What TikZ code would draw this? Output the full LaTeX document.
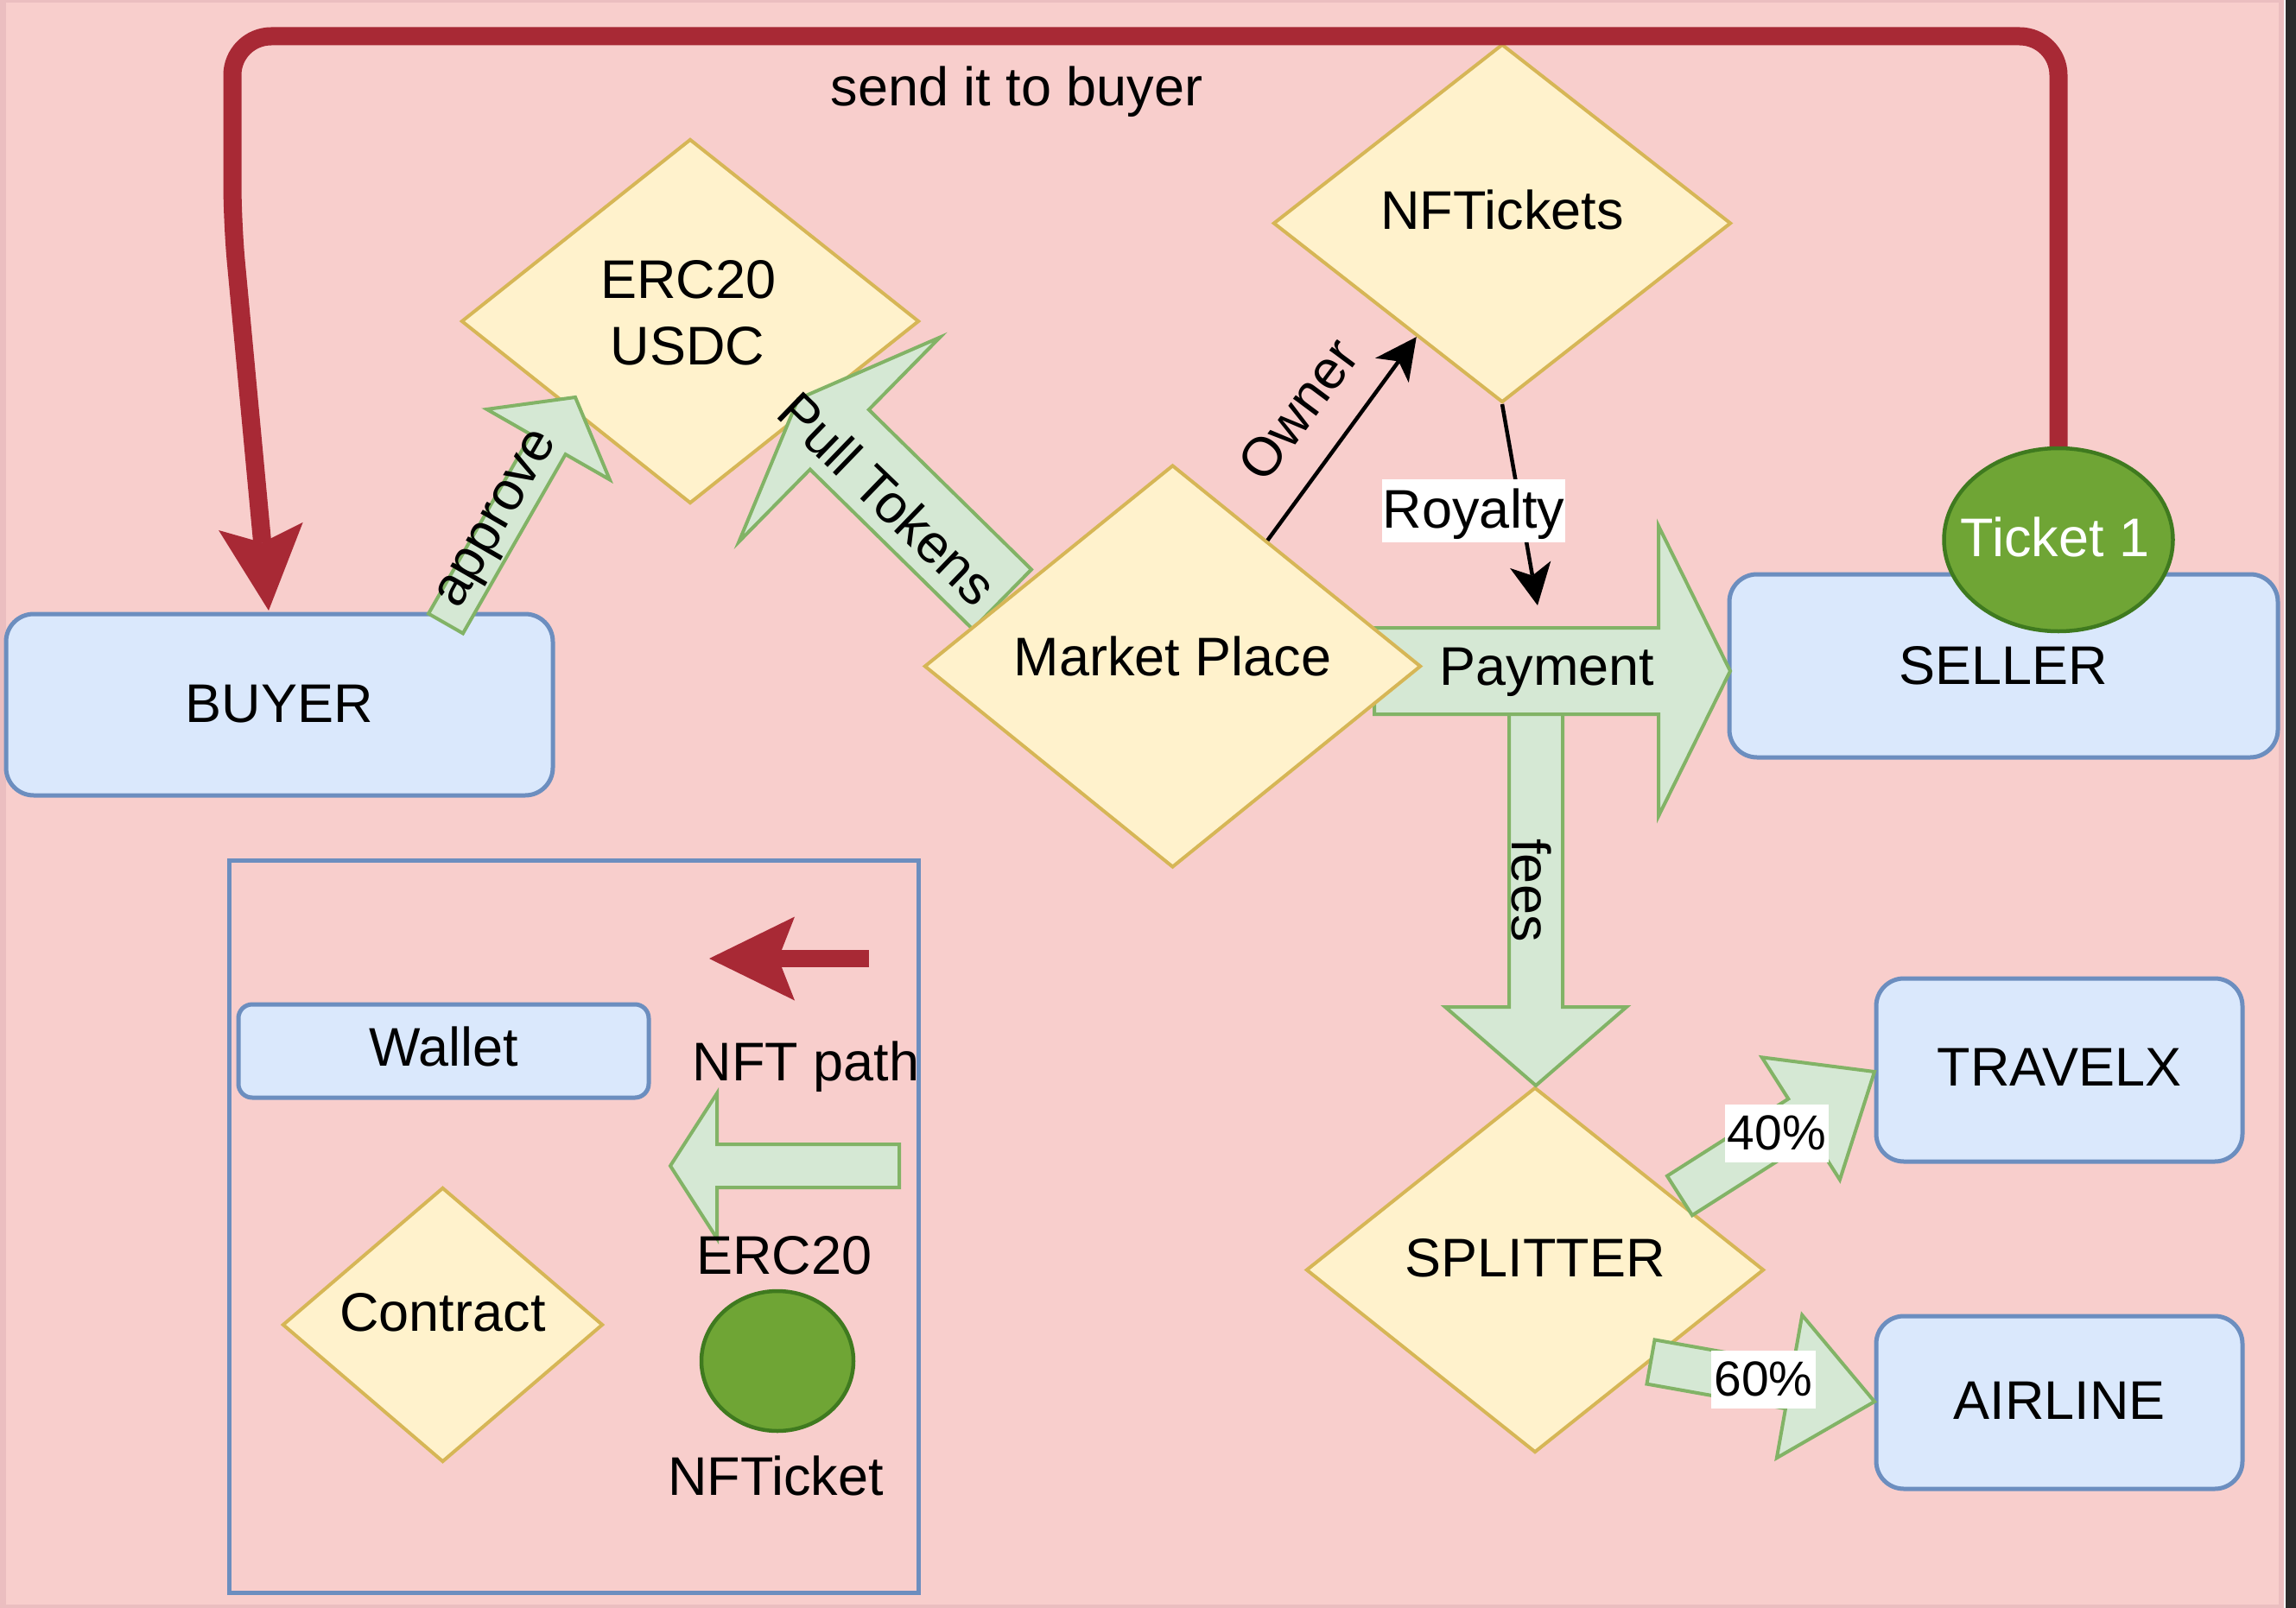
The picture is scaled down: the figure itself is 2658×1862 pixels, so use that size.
\documentclass[tikz,border=0pt]{standalone}
\usepackage{fontspec}
\setmainfont{Liberation Sans}
\usetikzlibrary{calc,shapes.geometric}
\definecolor{bgpink}{HTML}{F8CECC}
\definecolor{bgedge}{HTML}{EBBEC0}
\definecolor{darkside}{HTML}{2B2B2B}
\definecolor{boxfill}{HTML}{DAE8FC}
\definecolor{boxline}{HTML}{6C8EBF}
\definecolor{dfill}{HTML}{FFF2CC}
\definecolor{dline}{HTML}{D6B656}
\definecolor{gfill}{HTML}{D5E8D4}
\definecolor{gline}{HTML}{82B366}
\definecolor{nftred}{HTML}{A82935}
\definecolor{tkfill}{HTML}{6FA535}
\definecolor{tkline}{HTML}{3F7A1F}
\newcommand\fsN{\fontsize{63}{75}\selectfont}
\newcommand\fsS{\fontsize{57}{68}\selectfont}
% block (flex) arrow: #1 start, #2 tip, #3 shaft half width, #4 head half width, #5 head length
\newcommand\flexarr[5]{%
  \coordinate (fxh) at ($(#2)!#5pt!(#1)$);
  \draw[flexa] ($(#1)!#3pt!90:(#2)$) -- ($(fxh)!#3pt!90:(#2)$) -- ($(fxh)!#4pt!90:(#2)$)
    -- (#2) -- ($(fxh)!#4pt!-90:(#2)$) -- ($(fxh)!#3pt!-90:(#2)$) -- ($(#1)!#3pt!-90:(#2)$) -- cycle;}
% line with notched arrow head: #1 from, #2 tip, #3 head length, #4 head half width,
% #5 notch distance from tip, #6 colour, #7 line width
\newcommand\clsarr[7]{%
  \coordinate (cab) at ($(#2)!#3pt!(#1)$);
  \coordinate (can) at ($(#2)!#5pt!(#1)$);
  \draw[draw=#6, line width=#7pt] (#1) -- (can);
  \fill[#6] (#2) -- ($(cab)!#4pt!90:(#2)$) -- (can) -- ($(cab)!#4pt!-90:(#2)$) -- cycle;}
\begin{document}
\begin{tikzpicture}[x=1pt,y=-1pt,
  box/.style={rectangle, draw=boxline, fill=boxfill, line width=5pt, rounded corners=#1,
    inner sep=0pt, font=\fsN, text height=45pt},
  box/.default=32pt,
  diam/.style={diamond, draw=dline, fill=dfill, line width=4pt, inner sep=0pt,
    font=\fsN, text height=45pt},
  flexa/.style={draw=gline, fill=gfill, line width=4pt},
  redline/.style={draw=nftred, line width=21pt},
  txt/.style={font=\fsN, inner sep=0pt},
  tag/.style={font=\fsN, inner sep=0pt, fill=white},
  tok/.style={ellipse, draw=tkline, fill=tkfill, line width=4.5pt, inner sep=0pt}]
\useasboundingbox (0,0) rectangle (2658,1862);
% canvas
\fill[bgedge] (0,0) rectangle (2646,1862);
\fill[bgpink] (7,3) rectangle (2638,1858);
\fill[white] (2644,0) rectangle (2646,1862);
\fill[darkside] (2646,0) rectangle (2658,1862);
% legend frame
\node[draw=boxline, line width=5pt, minimum width=798pt, minimum height=848pt, inner sep=0pt] (legend) at (664,1420) {};
% boxes
\node[box, minimum width=633pt, minimum height=210pt, text depth=5pt] (buyer) at (323.5,816) {BUYER};
\node[box, minimum width=635pt, minimum height=212pt, text depth=2pt] (seller) at (2319.5,771) {SELLER};
\node[box, minimum width=424pt, minimum height=212pt, text depth=9pt] (travelx) at (2384,1239) {TRAVELX};
\node[box, minimum width=424pt, minimum height=200pt, text depth=7pt] (airline) at (2384,1624) {AIRLINE};
\node[box=16pt, minimum width=475pt, minimum height=108pt, text depth=10pt] (wallet) at (513.5,1217) {Wallet};
% contracts
\node[diam, minimum width=530pt, minimum height=422pt] (erc) at (799,372) {};
\node[txt, anchor=base] (ercA) at (797,345) {ERC20};
\node[txt, anchor=base] (ercB) at (796,422) {USDC};
\node[diam, minimum width=530pt, minimum height=415pt, text depth=31pt] (nft) at (1739,258.5) {NFTickets};
\node[diam, minimum width=530pt, minimum height=423pt, text depth=30pt] (split) at (1777,1470.5) {SPLITTER};
\node[diam, minimum width=371pt, minimum height=318pt, text depth=30pt] (contract) at (512.5,1534) {Contract};
% block arrows
\coordinate (feA) at (1778,777);   \coordinate (feB) at (1778,1257);
\coordinate (pyA) at (1591,777);   \coordinate (pyB) at (2003,777);
\coordinate (apA) at (516,722);    \coordinate (apB) at (666,460);
\coordinate (ptA) at (1160,694);   \coordinate (ptB) at (924,462);
\coordinate (p4A) at (1944.5,1384.5); \coordinate (p4B) at (2170,1241);
\coordinate (p6A) at (1911,1577);  \coordinate (p6B) at (2170,1623);
\coordinate (lgA) at (1041,1350);  \coordinate (lgB) at (776,1350);
\flexarr{feA}{feB}{31}{105}{91}
\flexarr{pyA}{pyB}{50}{168}{83}
\flexarr{apA}{apB}{23}{82}{63}
\flexarr{ptA}{ptB}{48.5}{166}{67}
\flexarr{p4A}{p4B}{27}{84}{101}
\flexarr{p6A}{p6B}{26}{84}{100}
\flexarr{lgA}{lgB}{25}{84}{54}
% market place
\node[diam, minimum width=575pt, minimum height=466pt, text depth=23pt] (mp) at (1357.5,771.5) {Market Place};
% NFT path (red)
\coordinate (tkTop) at (2383,519);
\coordinate (rT) at (311,707);
\coordinate (rb) at (269,258);
\coordinate (rN) at ($(rT)!79pt!(rb)$);
\coordinate (rW) at ($(rT)!98pt!(rb)$);
\draw[redline, rounded corners=45pt] (tkTop) -- (2383,42) -- (269,42) -- (rb) -- (rN);
\fill[nftred] (rT) -- ($(rW)!49pt!90:(rT)$) -- (rN) -- ($(rW)!49pt!-90:(rT)$) -- cycle;
\coordinate (lrA) at (1006,1110); \coordinate (lrB) at (821,1110);
\clsarr{lrA}{lrB}{99}{48.5}{80}{nftred}{20}
% tokens
\node[tok, minimum width=265pt, minimum height=212pt] (tk) at (2383,625) {};
\node[txt, anchor=base, text=white] (tkT) at (2379,644) {Ticket 1};
\node[tok, minimum width=176pt, minimum height=162pt] (tkl) at (900,1576) {};
% thin arrows
\coordinate (royB) at (1780,701);
\clsarr{mp.53.3}{nft.233.3}{48}{24}{35}{black}{4.5}
\clsarr{nft.south}{royB}{48}{24}{35}{black}{4.5}
% labels
\node[txt, anchor=base] (sendT) at (1177,123) {send it to buyer};
\node[txt, rotate=60] (apT) at (579,603) {approve};
\node[txt, rotate=-44] (ptT) at (1028,577) {Pull Tokens};
\node[txt, rotate=53.3] (owT) at (1503,474) {Owner};
\node[txt, rotate=-90] (feT) at (1773,1031) {fees};
\node[txt, anchor=base] (pyT) at (1791,793) {Payment};
\node[tag, minimum width=212pt, minimum height=73pt, text height=50pt, text depth=11pt] (roT) at (1706,591.5) {Royalty};
\node[tag, font=\fsS, minimum width=120pt, minimum height=67pt, text height=48pt, text depth=11pt] (p4T) at (2057,1312.5) {40\%};
\node[tag, font=\fsS, minimum width=121pt, minimum height=67pt, text height=48pt, text depth=11pt] (p6T) at (2041.5,1597.5) {60\%};
\node[txt, anchor=base] (nftpT) at (933,1251) {NFT path};
\node[txt, anchor=base] (ercL) at (908,1475) {ERC20};
\node[txt, anchor=base] (nftkT) at (898,1731) {NFTicket};
\end{tikzpicture}
\end{document}
